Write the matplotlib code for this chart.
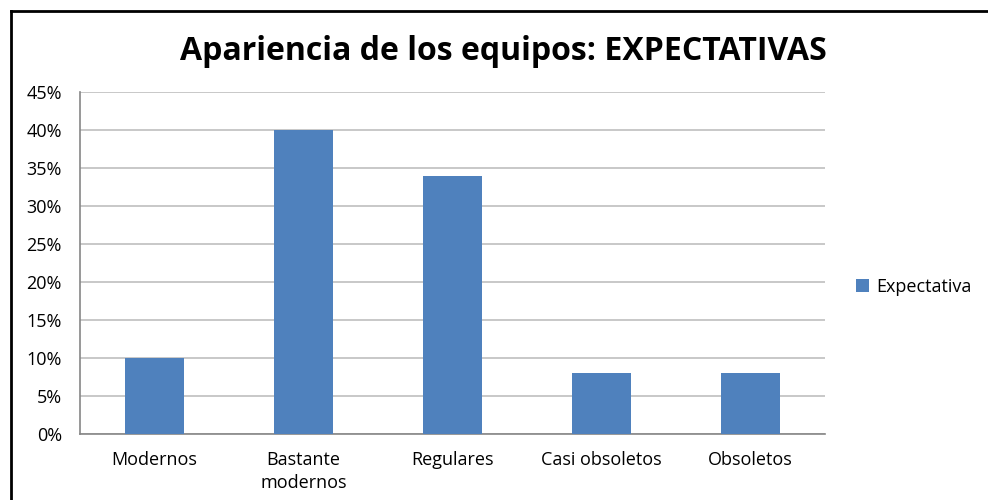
import matplotlib.pyplot as plt
from matplotlib.lines import Line2D
from matplotlib.ticker import PercentFormatter

categories = ['Modernos', 'Bastante\nmodernos', 'Regulares', 'Casi obsoletos', 'Obsoletos']
expectativa = [10, 40, 34, 8, 8]
yticks = [0, 5, 10, 15, 20, 25, 30, 35, 40, 45]

plt.rcParams['font.family'] = ['Open Sans', 'DejaVu Sans']

fig = plt.figure(figsize=(9.88, 5.0), dpi=100)
ax = fig.add_axes([80 / 988, 66 / 500, 745 / 988, 342 / 500])

# Bars
x = range(len(categories))
ax.bar(x, expectativa, width=0.4, color='#4F81BD', label='Expectativa', zorder=3)

# Axes styling
ax.set_xlim(-0.5, len(categories) - 0.5)
ax.set_ylim(0, 45)
ax.set_yticks(yticks)
ax.yaxis.set_major_formatter(PercentFormatter(decimals=0))
ax.set_xticks(list(x))
ax.set_xticklabels(categories, fontsize=13, linespacing=1.4)
ax.tick_params(axis='y', labelsize=13, length=0, pad=13)
ax.tick_params(axis='x', length=0, pad=12)
ax.grid(axis='y', color='#BFBFBF', linewidth=1.2, zorder=0)
for side in ['top', 'right']:
    ax.spines[side].set_visible(False)
for side in ['left', 'bottom']:
    ax.spines[side].set_color('#868686')
    ax.spines[side].set_linewidth(1.2)

# Title
fig.text(503 / 988, 1 - 51 / 500, 'Apariencia de los equipos: EXPECTATIVAS',
         ha='center', va='center', fontsize=23, fontweight='bold')

# Legend
ax.legend(loc='center left', bbox_to_anchor=(1.02, 0.43), frameon=False,
          fontsize=13, handlelength=0.7, handleheight=0.7, handletextpad=0.4)

# Outer frame (partially off-canvas, as in the source)
fig.add_artist(Line2D([11 / 988, 11 / 988], [0, 1 - 11 / 500], color='black', lw=2,
                      transform=fig.transFigure))
fig.add_artist(Line2D([11 / 988, 1], [1 - 11 / 500, 1 - 11 / 500], color='black', lw=2,
                      transform=fig.transFigure))

plt.savefig('out.png', dpi=100)
